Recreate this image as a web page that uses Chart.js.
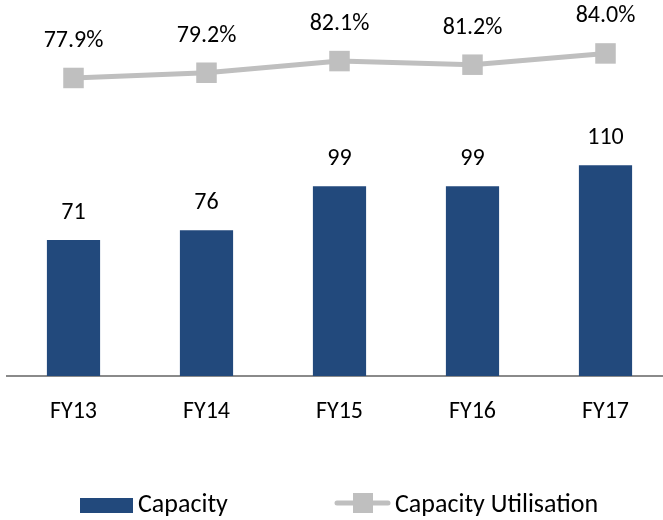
<!DOCTYPE html>
<html>
<head>
<meta charset="utf-8">
<script src="https://cdn.jsdelivr.net/npm/chart.js@4.4.1/dist/chart.umd.min.js"></script>
<style>
  html, body { margin: 0; padding: 0; overflow: hidden; background: #fff; width: 663px; height: 520px; }
</style>
</head>
<body>
<canvas id="capChart" width="672" height="520"></canvas>
<script>
// --- datos ---
const years = ['FY13', 'FY14', 'FY15', 'FY16', 'FY17'];
const capacity = [71, 76, 99, 99, 110];
const utilisation = [77.9, 79.2, 82.1, 81.2, 84.0];

const FONT = 'Carlito, Calibri, Lato, sans-serif';
const BAR_COLOR = '#22497C';
const LINE_COLOR = '#BFBFBF';

// etiquetas de valores encima de barras y puntos
const valueLabels = {
    id: 'valueLabels',
    afterDatasetsDraw(chart) {
        const ctx = chart.ctx;
        ctx.save();
        ctx.font = '24px ' + FONT;
        ctx.fillStyle = '#000';
        ctx.textAlign = 'center';
        ctx.textBaseline = 'middle';
        chart.data.datasets.forEach((ds, i) => {
            const meta = chart.getDatasetMeta(i);
            meta.data.forEach((el, j) => {
                const isBar = ds.type === 'bar';
                const txt = isBar ? String(ds.data[j]) : ds.data[j].toFixed(1) + '%';
                ctx.fillText(txt, el.x, el.y - (isBar ? 27 : 37));
            });
        });
        ctx.restore();
    }
};

// leyenda dibujada abajo
const bottomLegend = {
    id: 'bottomLegend',
    afterDraw(chart) {
        const ctx = chart.ctx;
        const bar = chart.data.datasets.find(d => d.type === 'bar');
        const line = chart.data.datasets.find(d => d.type === 'line');
        const cy = 505;
        ctx.save();
        ctx.font = '26px ' + FONT;
        ctx.textBaseline = 'middle';
        ctx.textAlign = 'left';
        // barra
        ctx.fillStyle = bar.backgroundColor;
        ctx.fillRect(80, cy - 7, 53, 15);
        ctx.fillStyle = '#000';
        ctx.fillText(bar.label, 138, cy);
        // línea con marcador
        ctx.strokeStyle = line.borderColor;
        ctx.lineWidth = 5;
        ctx.lineCap = 'round';
        ctx.beginPath();
        ctx.moveTo(337, cy - 2);
        ctx.lineTo(388, cy - 2);
        ctx.stroke();
        ctx.fillStyle = line.pointBackgroundColor;
        ctx.fillRect(353, cy - 12, 20, 20);
        ctx.fillStyle = '#000';
        ctx.fillText(line.label, 395, cy);
        ctx.restore();
    }
};

new Chart(document.getElementById('capChart').getContext('2d'), {
    data: {
        labels: years,
        datasets: [
            {
                type: 'line',
                label: 'Capacity Utilisation',
                data: utilisation,
                yAxisID: 'y1',
                borderColor: LINE_COLOR,
                borderWidth: 5,
                pointStyle: 'rect',
                pointRadius: 14.5,
                pointBackgroundColor: LINE_COLOR,
                pointBorderWidth: 0,
                tension: 0,
                clip: false,
                order: 0
            },
            {
                type: 'bar',
                label: 'Capacity',
                data: capacity,
                yAxisID: 'y',
                backgroundColor: BAR_COLOR,
                barPercentage: 0.4,
                categoryPercentage: 1.0,
                order: 1
            }
        ]
    },
    options: {
        responsive: false,
        animation: false,
        layout: { autoPadding: false, padding: { left: 7, right: 0, top: 10, bottom: 84 } },
        plugins: { legend: { display: false }, tooltip: { enabled: false } },
        scales: {
            x: {
                grid: { display: false, drawTicks: false },
                border: { display: true, color: '#8A8A8A', width: 2 },
                ticks: { color: '#000', padding: 22, font: { family: FONT, size: 24 } },
                afterFit(s) { s.height = 60; }
            },
            y: { display: false, min: 0, max: 191 },
            y1: { display: false, min: 3.8, max: 94.8 }
        }
    },
    plugins: [valueLabels, bottomLegend]
});
</script>
</body>
</html>
